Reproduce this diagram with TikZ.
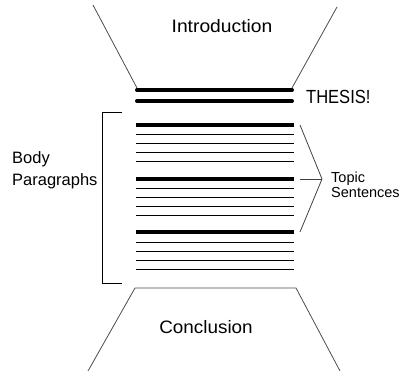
\documentclass[tikz,border=0pt]{standalone}
\usepackage{fontspec}
\setmainfont{Liberation Sans}
\begin{document}
\begin{tikzpicture}[x=1pt,y=-1pt,
  funnel/.style={draw=black!70,line width=0.8pt},
  thickln/.style={line width=4pt,line cap=round},
  bodythick/.style={line width=3.6pt},
  thinln/.style={line width=1pt},
  lbl/.style={inner sep=0pt,align=left},
  bracelines/.style={draw=black!75,line width=0.8pt}]
\useasboundingbox (0,0) rectangle (401,371);
% top funnel
\coordinate (tl0) at (93,5);
\coordinate (tl1) at (137,88);
\coordinate (tr0) at (337,7);
\coordinate (tr1) at (292,88);
\draw[funnel] (tl0) -- (tl1);
\draw[funnel] (tr0) -- (tr1);
\node[lbl,font=\fontsize{18}{20}\selectfont,xscale=1.07] (intro) at (222,26) {Introduction};
% thesis lines
\draw[thickln] (137,90) -- (292,90);
\draw[thickln] (137,101) -- (292,101);
\node[lbl,anchor=west,font=\fontsize{19}{22}\selectfont,xscale=0.87] (thesis) at (306,97) {THESIS!};
% body lines
\foreach \y in {125,179,232}{
  \draw[bodythick] (136,\y) -- (294,\y);
  \foreach \d in {10,19,28,37}{
    \draw[thinln] (136,\y+\d) -- (294,\y+\d);
  }
}
% bracket
\coordinate (bt) at (122,113);
\coordinate (bb) at (122,283);
\draw[line width=1pt] (bt) -- (102,113) -- (102,283) -- (bb);
\node[lbl,anchor=west,font=\fontsize{16.5}{22}\selectfont] (body) at (12,170) {Body\\Paragraphs};
% topic sentences brace
\coordinate (p1) at (300,125);
\coordinate (p2) at (300,179);
\coordinate (p3) at (300,232);
\coordinate (tip) at (322,179);
\draw[bracelines] (p1) -- (tip) -- (p3);
\draw[bracelines] (p2) -- (tip);
\node[lbl,anchor=west,font=\fontsize{14.5}{15}\selectfont] (topic) at (331,185) {Topic\\Sentences};
% bottom funnel
\coordinate (bl0) at (135,288);
\coordinate (br0) at (296,288);
\coordinate (bl1) at (88,371);
\coordinate (br1) at (340,371);
\draw[funnel] (bl1) -- (bl0) -- (br0) -- (br1);
\node[lbl,font=\fontsize{18}{20}\selectfont,xscale=1.05] (concl) at (206,327) {Conclusion};
\end{tikzpicture}
\end{document}
